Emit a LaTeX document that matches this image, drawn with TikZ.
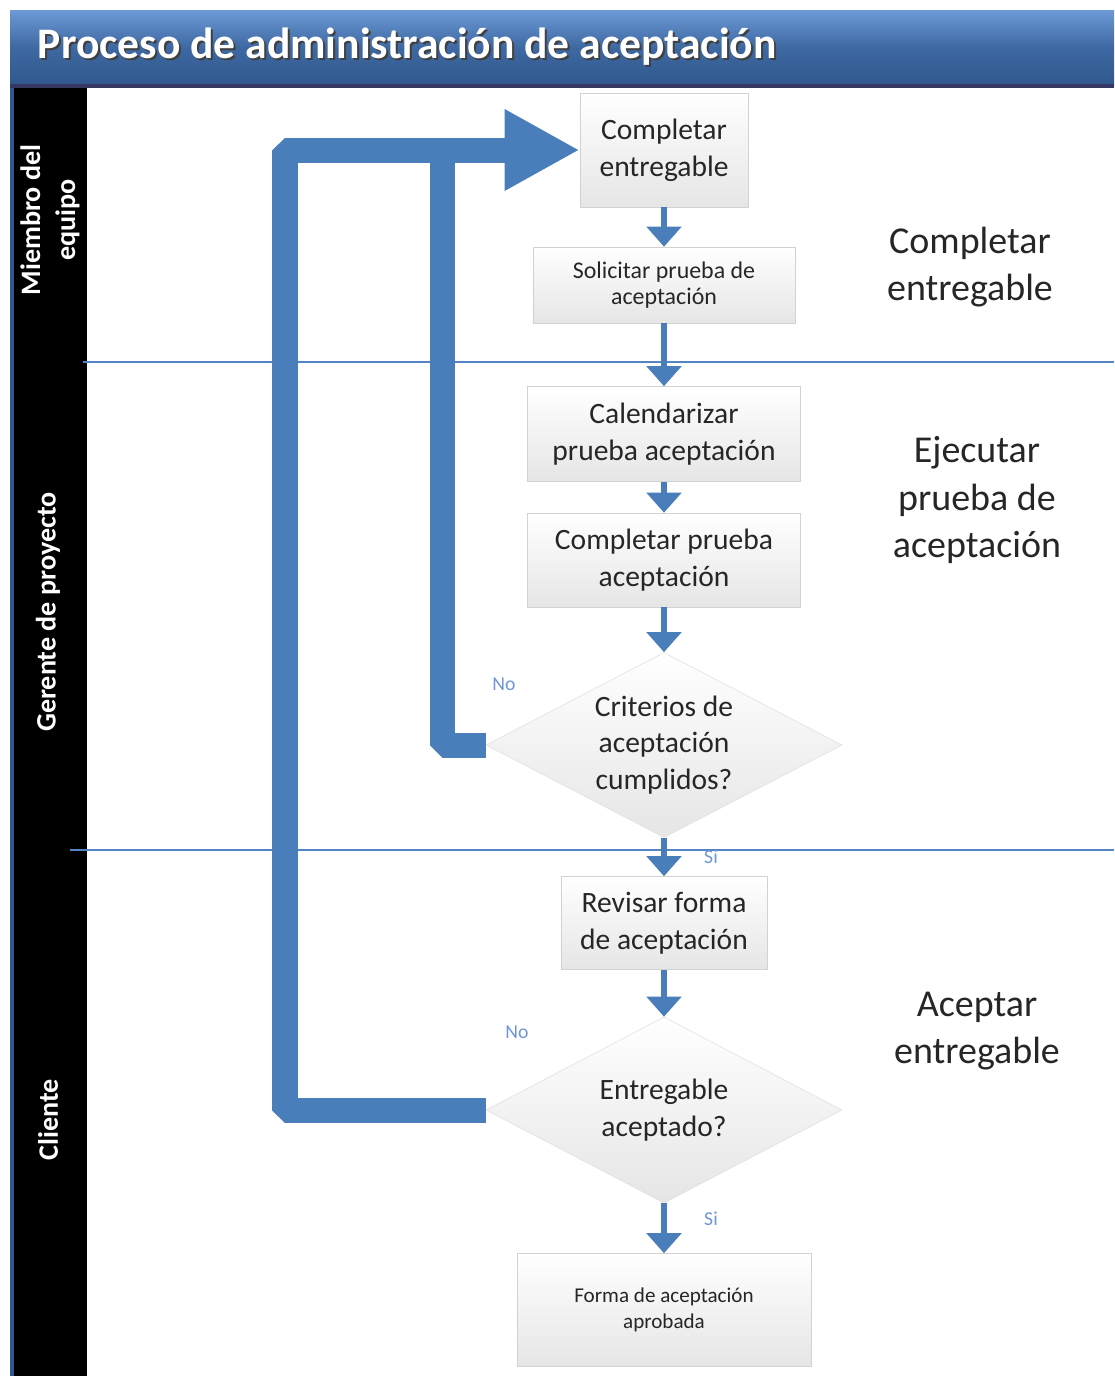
\documentclass[tikz,border=0pt]{standalone}
\usepackage{fontspec}
\setmainfont{Carlito}
\usetikzlibrary{arrows.meta,shapes.geometric}
\definecolor{flowblue}{RGB}{74,126,187}
\definecolor{lineblue}{RGB}{84,132,196}
\definecolor{titletop}{RGB}{108,154,214}
\definecolor{titlemid}{RGB}{62,104,162}
\definecolor{titlebottom}{RGB}{48,88,142}
\definecolor{noteblue}{RGB}{110,150,215}
\tikzset{
  stepbox/.style={rectangle, draw=gray!35, top color=white, bottom color=gray!20,
    align=center, inner sep=2pt, text=black!85,
    font=\fontsize{21pt}{26pt}\selectfont},
  decision/.style={diamond, draw=gray!25, top color=white, bottom color=gray!20,
    inner sep=0pt},
  decisiontext/.style={align=center, inner sep=0pt, text=black!85,
    font=\fontsize{21pt}{26pt}\selectfont},
  flow/.style={draw=flowblue, line width=0.15cm, -{Triangle[length=0.5cm,width=0.85cm]}},
  loopback/.style={draw=flowblue, line width=0.625cm, line join=bevel},
  lane/.style={rotate=90, text=white, align=center,
    font=\bfseries\fontsize{20pt}{25pt}\selectfont},
  phase/.style={align=center, text=black!85, font=\fontsize{27pt}{34pt}\selectfont},
  answer/.style={text=noteblue, font=\fontsize{14pt}{16pt}\selectfont}
}

\begin{document}
\begin{tikzpicture}[x=0.025cm, y=-0.025cm]
  \useasboundingbox (0,0) rectangle (1114,1376);
  % Title bar
  \shade[top color=titletop, bottom color=titlebottom, middle color=titlemid]
    (10,10) rectangle (1114,85);
  \fill[gray!70!blue!60!black] (10,84) rectangle (1114,88);
  \node[anchor=west, text=black!75, font=\bfseries\fontsize{31pt}{36pt}\selectfont]
    (titleshadow) at (35,49) {Proceso de administración de aceptación};
  \node[anchor=west, text=white, font=\bfseries\fontsize{31pt}{36pt}\selectfont]
    (title) at (33,47) {Proceso de administración de aceptación};
  % Lane column
  \fill[titlebottom] (10,88) rectangle (14,1376);
  \fill[black] (14,88) rectangle (87,1376);
  \node[lane] (lane1) at (50,220) {Miembro del\\equipo};
  \node[lane] (lane2) at (48,612) {Gerente de proyecto};
  \node[lane] (lane3) at (48,1120) {Cliente};
  % Lane separators
  \draw[lineblue, line width=0.05cm] (83,362) -- (1114,362);
  \draw[lineblue, line width=0.05cm] (70,850) -- (1114,850);
  % Phases
  \node[phase] (phase1) at (970,267) {Completar\\entregable};
  \node[phase] (phase2) at (977,500) {Ejecutar\\prueba de\\aceptación};
  \node[phase] (phase3) at (977,1031) {Aceptar\\entregable};
  % Steps
  \node[stepbox, minimum width=4.2cm, minimum height=2.85cm] (complete) at (664,150) {Completar\\entregable};
  \node[stepbox, minimum width=6.55cm, minimum height=1.9cm,
    font=\fontsize{17pt}{19pt}\selectfont] (request) at (664,285) {Solicitar prueba de\\aceptación};
  \node[stepbox, minimum width=6.825cm, minimum height=2.375cm] (schedule) at (664,434) {Calendarizar\\prueba aceptación};
  \node[stepbox, minimum width=6.825cm, minimum height=2.35cm] (runtest) at (664,560) {Completar prueba\\aceptación};
  \node[decision, minimum width=8.9cm, minimum height=4.625cm] (criteria) at (664,745) {};
  \node[decisiontext] (criteriatext) at (criteria) {Criterios de\\aceptación\\cumplidos?};
  \node[stepbox, minimum width=5.15cm, minimum height=2.325cm] (review) at (664,923) {Revisar forma\\de aceptación};
  \node[decision, minimum width=8.9cm, minimum height=4.65cm] (accepted) at (664,1110) {};
  \node[decisiontext] (acceptedtext) at (accepted) {Entregable\\aceptado?};
  \node[stepbox, minimum width=7.35cm, minimum height=2.825cm,
    font=\fontsize{15pt}{18pt}\selectfont] (approved) at (664,1310) {Forma de aceptación\\aprobada};
  % Answers
  \node[answer] (no1) at (504,684) {No};
  \node[answer] (si1) at (711,857) {Si};
  \node[answer] (no2) at (517,1032) {No};
  \node[answer] (si2) at (711,1219) {Si};
  % Flow
  \draw[flow] (complete) -- (request);
  \draw[flow] (request) -- (schedule);
  \draw[flow] (schedule) -- (runtest);
  \draw[flow] (runtest) -- (criteria);
  \draw[flow] (criteria) -- (review);
  \draw[flow] (review) -- (accepted);
  \draw[flow] (accepted) -- (approved);
  % Loops back
  \draw[loopback] (criteria.west) -| (442,150);
  \draw[loopback, -{Triangle[length=1.875cm,width=1.9cm]}]
    (accepted.west) -| (285,150) -- (complete.west);
\end{tikzpicture}
\end{document}
